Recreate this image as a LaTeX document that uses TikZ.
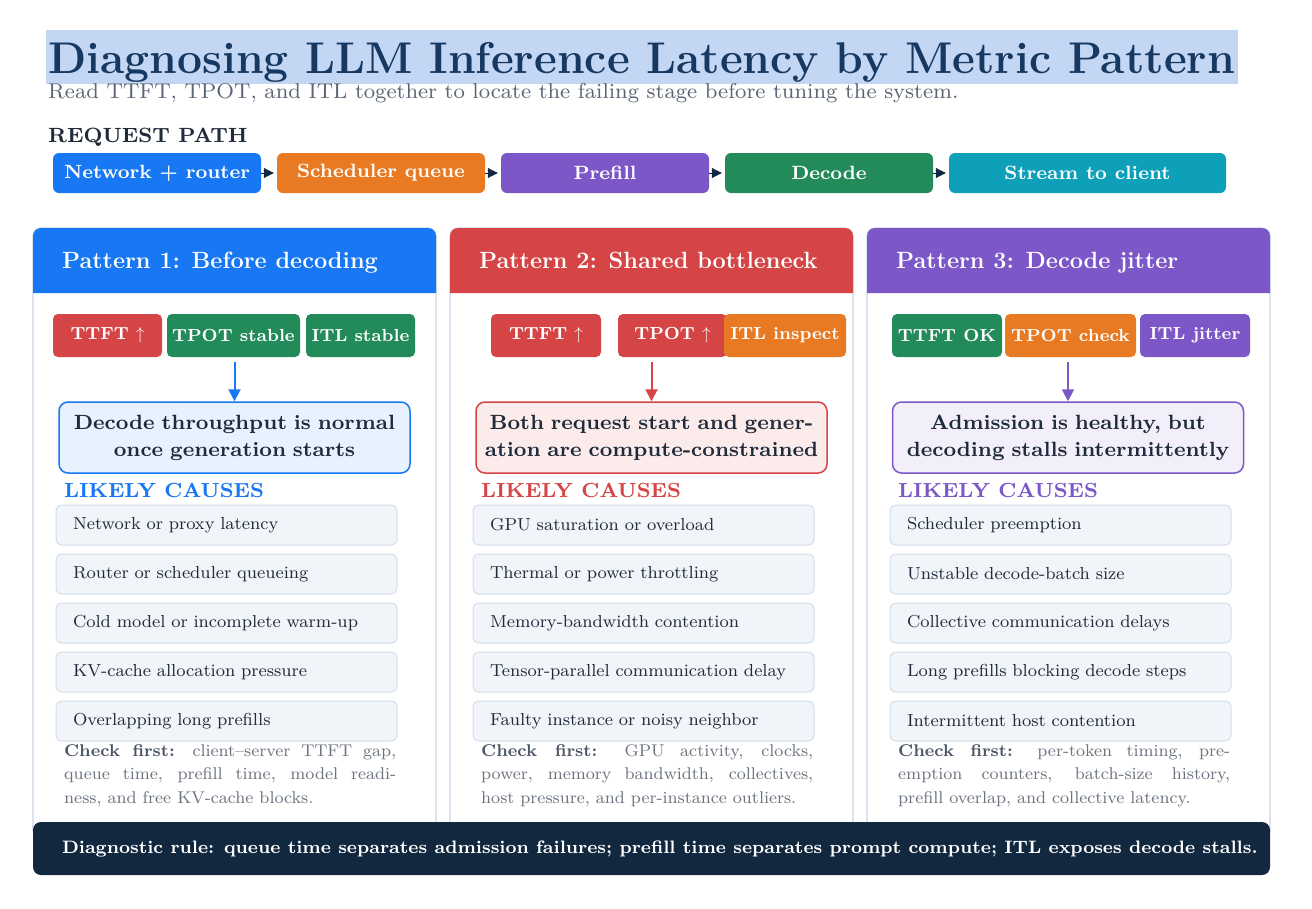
\documentclass[tikz,border=0pt]{standalone}
\usepackage{fontspec}
\newfontfamily\fe{lmroman8-regular.otf}[BoldFont=lmroman8-bold.otf, Ligatures=TeX]
\usetikzlibrary{arrows.meta}
\definecolor{cblue}{HTML}{1877F2}
\definecolor{cred}{HTML}{D64545}
\definecolor{cgreen}{HTML}{238B5A}
\definecolor{corange}{HTML}{E87A24}
\definecolor{cpurple}{HTML}{7B57C8}
\definecolor{cteal}{HTML}{0EA0B8}
\definecolor{cnavy}{HTML}{12283F}
\definecolor{ctitle}{HTML}{163861}
\definecolor{chl}{HTML}{C3D7F5}
\definecolor{csub}{HTML}{5B6675}
\definecolor{cdark}{HTML}{1F2A3A}
\definecolor{cborder}{HTML}{C9D7E8}
\definecolor{ccausefill}{HTML}{F1F5FA}
\definecolor{ccauseline}{HTML}{D3DEEB}
\definecolor{cgray}{HTML}{6B7480}
\definecolor{cgraydark}{HTML}{4B5563}
\definecolor{lblue}{HTML}{E8F1FE}
\definecolor{lred}{HTML}{FBEBEB}
\definecolor{lpurple}{HTML}{F2EEFA}
\newcommand{\fsz}[2]{\fontsize{#1}{#2}\selectfont}
\newcommand{\up}{$\uparrow$}
\tikzset{
  pipebox/.style={rounded corners=6pt, minimum height=40pt, text=white, font=\fe\fsz{19.2}{23}\bfseries, inner sep=0pt},
  pipearrow/.style={-{Triangle[length=10pt,width=10pt]}, cnavy, line width=1pt, shorten >=3pt},
  badge/.style={rounded corners=5pt, minimum height=43pt, text=white, font=\fe\fsz{17.5}{21}\bfseries, inner sep=0pt},
  panelbody/.style={rounded corners=8pt, fill=white, draw=cborder, line width=1.2pt},
  headtext/.style={anchor=base west, text=white, font=\fsz{23.5}{28}\bfseries, inner sep=0pt},
  summary/.style={rounded corners=9pt, line width=1.5pt, minimum width=351pt, minimum height=71pt, text width=346pt, align=center, inner sep=0pt, text=cdark, font=\fe\fsz{20.6}{27}\bfseries},
  downarrow/.style={-{Triangle[length=12pt,width=12pt]}, line width=2pt},
  likely/.style={anchor=base west, font=\fe\fsz{20.4}{25}\bfseries, inner sep=0pt},
  cause/.style={rounded corners=6pt, fill=ccausefill, draw=ccauseline, line width=1pt, minimum height=40pt, text width=307pt, inner xsep=17pt, inner ysep=0pt, align=left, text=cdark, font=\fe\fsz{17.4}{20}},
  checktext/.style={anchor=north west, text width=332pt, align=justify, inner sep=0pt, text=cgray, font=\fe\fsz{17}{23.5}},
}
\begin{document}
\begin{tikzpicture}[x=1pt,y=-1pt]
\useasboundingbox (0,0) rectangle (1312,908);
\fill[white] (0,0) rectangle (1312,908);
% title
\fill[chl] (46,30) rectangle (1238,84);
\node[anchor=base west, inner sep=0pt, text=ctitle, font=\fsz{44.4}{50}\bfseries] (title) at (48,73) {Diagnosing LLM Inference Latency by Metric Pattern};
\node[anchor=base west, inner sep=0pt, text=csub, font=\fe\fsz{21.4}{25}] (subtitle) at (48,98) {Read TTFT, TPOT, and ITL together to locate the failing stage before tuning the system.};
\node[anchor=base west, inner sep=0pt, text=cdark, font=\fe\fsz{20.6}{25}\bfseries] (reqpath) at (48,142) {REQUEST PATH};
% pipeline
\node[pipebox, fill=cblue, minimum width=208pt] (p1) at (157,173) {Network + router};
\node[pipebox, fill=corange, minimum width=208pt] (p2) at (381,173) {Scheduler queue};
\node[pipebox, fill=cpurple, minimum width=208pt] (p3) at (605,173) {Prefill};
\node[pipebox, fill=cgreen, minimum width=208pt] (p4) at (829,173) {Decode};
\node[pipebox, fill=cteal, minimum width=277pt] (p5) at (1087.5,173) {Stream to client};
\draw[pipearrow] (p1.east) -- (p2.west);
\draw[pipearrow] (p2.east) -- (p3.west);
\draw[pipearrow] (p3.east) -- (p4.west);
\draw[pipearrow] (p4.east) -- (p5.west);
% panels
\foreach \x/\c in {33/cblue, 450/cred, 867/cpurple}{
  \draw[panelbody] (\x,228) rectangle (\x+403,838);
  \fill[\c] (\x,293) {[rounded corners=8pt] -- (\x,228) -- (\x+403,228)} -- (\x+403,293) -- cycle;
}
\node[headtext] (h1) at (62,268) {Pattern 1: Before decoding};
\node[headtext] (h2) at (479,268) {Pattern 2: Shared bottleneck};
\node[headtext] (h3) at (896,268) {Pattern 3: Decode jitter};
% badges
\node[badge, fill=cred, minimum width=109pt] (b1a) at (107.5,335.5) {TTFT \up};
\node[badge, fill=cgreen, minimum width=133pt] (b1b) at (233.5,335.5) {TPOT stable};
\node[badge, fill=cgreen, minimum width=109pt] (b1c) at (360.5,335.5) {ITL stable};
\node[badge, fill=cred, minimum width=110pt] (b2a) at (546,335.5) {TTFT \up};
\node[badge, fill=cred, minimum width=109pt] (b2b) at (672.5,335.5) {TPOT \up};
\node[badge, fill=corange, minimum width=122pt] (b2c) at (785,335.5) {ITL inspect};
\node[badge, fill=cgreen, minimum width=110pt] (b3a) at (947,335.5) {TTFT OK};
\node[badge, fill=corange, minimum width=131pt] (b3b) at (1070.5,335.5) {TPOT check};
\node[badge, fill=cpurple, minimum width=110pt] (b3c) at (1195,335.5) {ITL jitter};
% summaries
\node[summary, draw=cblue, fill=lblue] (s1) at (234.5,437.5) {Decode throughput is normal\\once generation starts};
\node[summary, draw=cred, fill=lred] (s2) at (651.5,437.5) {Both request start and gener-\\ation are compute-constrained};
\node[summary, draw=cpurple, fill=lpurple] (s3) at (1068,437.5) {Admission is healthy, but\\decoding stalls intermittently};
\coordinate (a1) at (234.5,362);
\coordinate (a2) at (651.5,362);
\coordinate (a3) at (1068,362);
\draw[downarrow, cblue] (a1) -- (s1.north);
\draw[downarrow, cred] (a2) -- (s2.north);
\draw[downarrow, cpurple] (a3) -- (s3.north);
% likely causes
\node[likely, text=cblue] (l1) at (64,497) {LIKELY CAUSES};
\node[likely, text=cred] (l2) at (481,497) {LIKELY CAUSES};
\node[likely, text=cpurple] (l3) at (898,497) {LIKELY CAUSES};
% cause boxes
\foreach \i/\y/\t in {1/525/Network or proxy latency, 2/574/Router or scheduler queueing, 3/623/Cold model or incomplete warm-up, 4/672/KV-cache allocation pressure, 5/721/Overlapping long prefills}{
  \node[cause] (c1\i) at (226.5,\y) {\t};
}
\foreach \i/\y/\t in {1/525/GPU saturation or overload, 2/574/Thermal or power throttling, 3/623/Memory-bandwidth contention, 4/672/Tensor-parallel communication delay, 5/721/Faulty instance or noisy neighbor}{
  \node[cause] (c2\i) at (643.5,\y) {\t};
}
\foreach \i/\y/\t in {1/525/Scheduler preemption, 2/574/Unstable decode-batch size, 3/623/Collective communication delays, 4/672/Long prefills blocking decode steps, 5/721/Intermittent host contention}{
  \node[cause] (c3\i) at (1060.5,\y) {\t};
}
% check first
\node[checktext] (k1) at (64,744) {{\color{cgraydark}\bfseries Check first:} client--server TTFT gap,\linebreak queue time, prefill time, model readi-\linebreak ness, and free KV-cache blocks.};
\node[checktext] (k2) at (481,744) {{\color{cgraydark}\bfseries Check first:} GPU activity, clocks,\linebreak power, memory bandwidth, collectives,\linebreak host pressure, and per-instance outliers.};
\node[checktext] (k3) at (898,744) {{\color{cgraydark}\bfseries Check first:} per-token timing, pre-\linebreak emption counters, batch-size history,\linebreak prefill overlap, and collective latency.};
% banner
\node[rounded corners=8pt, fill=cnavy, minimum width=1237pt, minimum height=53pt, inner xsep=29pt, inner ysep=0pt, text=white, font=\fe\fsz{18.0}{22}\bfseries] (banner) at (651.5,848.5) {\makebox[1179pt][l]{Diagnostic rule: queue time separates admission failures; prefill time separates prompt compute; ITL exposes decode stalls.}};
\end{tikzpicture}
\end{document}
